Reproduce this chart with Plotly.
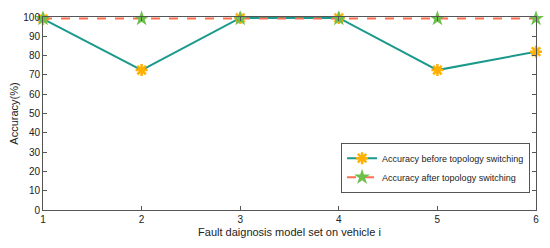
import plotly.graph_objects as go

x_vals = [1, 2, 3, 4, 5, 6]
acc_before = [99, 72.5, 99.5, 99.5, 72.5, 82]
acc_after = [99.2, 99.2, 99.2, 99.2, 99.2, 99.2]
y_ticks = [0, 10, 20, 30, 40, 50, 60, 70, 80, 90, 100]

fig = go.Figure()
fig.add_trace(go.Scatter(
    x=x_vals, y=acc_before, mode="lines+markers",
    name="Accuracy before topology switching",
    line=dict(color="#1b998b", width=2),
    marker=dict(symbol="asterisk-open", size=10, color="#ffb000",
                line=dict(color="#ffb000", width=2.5)),
    cliponaxis=False,
))
fig.add_trace(go.Scatter(
    x=x_vals, y=acc_after, mode="lines+markers",
    name="Accuracy after topology switching",
    line=dict(color="#ff6f50", width=2, dash="dash"),
    marker=dict(symbol="star", size=12, color="#6cbf4a",
                line=dict(color="#6cbf4a", width=0)),
    cliponaxis=False,
))

axis_common = dict(
    showline=True, linecolor="#555555", linewidth=1, mirror="ticks",
    ticks="inside", ticklen=4, tickcolor="#555555",
    showgrid=False, zeroline=False,
    tickfont=dict(family="Liberation Sans, Arial", size=10, color="#222222"),
)
fig.update_xaxes(range=[1, 6], tickvals=x_vals,
                 title=dict(text="Fault daignosis model set on vehicle i",
                            font=dict(family="Liberation Sans, Arial", size=11, color="#222222"),
                            standoff=4),
                 **axis_common)
fig.update_yaxes(range=[0, 100], tickvals=y_ticks,
                 title=dict(text="Accuracy(%)",
                            font=dict(family="Liberation Sans, Arial", size=11, color="#222222"),
                            standoff=2),
                 **axis_common)

fig.update_layout(
    width=550, height=248,
    margin=dict(l=43, r=11, t=11, b=36),
    paper_bgcolor="white", plot_bgcolor="white",
    showlegend=True,
    legend=dict(x=0.988, y=0.09, xanchor="right", yanchor="bottom",
                bgcolor="white", bordercolor="#555555", borderwidth=1,
                font=dict(family="Liberation Sans, Arial", size=9, color="#222222"),
                tracegroupgap=0, itemwidth=30),
)

fig.write_html("out.html", config={"displayModeBar": False},
               post_script="document.body.style.margin='0';document.body.style.overflow='hidden';")
